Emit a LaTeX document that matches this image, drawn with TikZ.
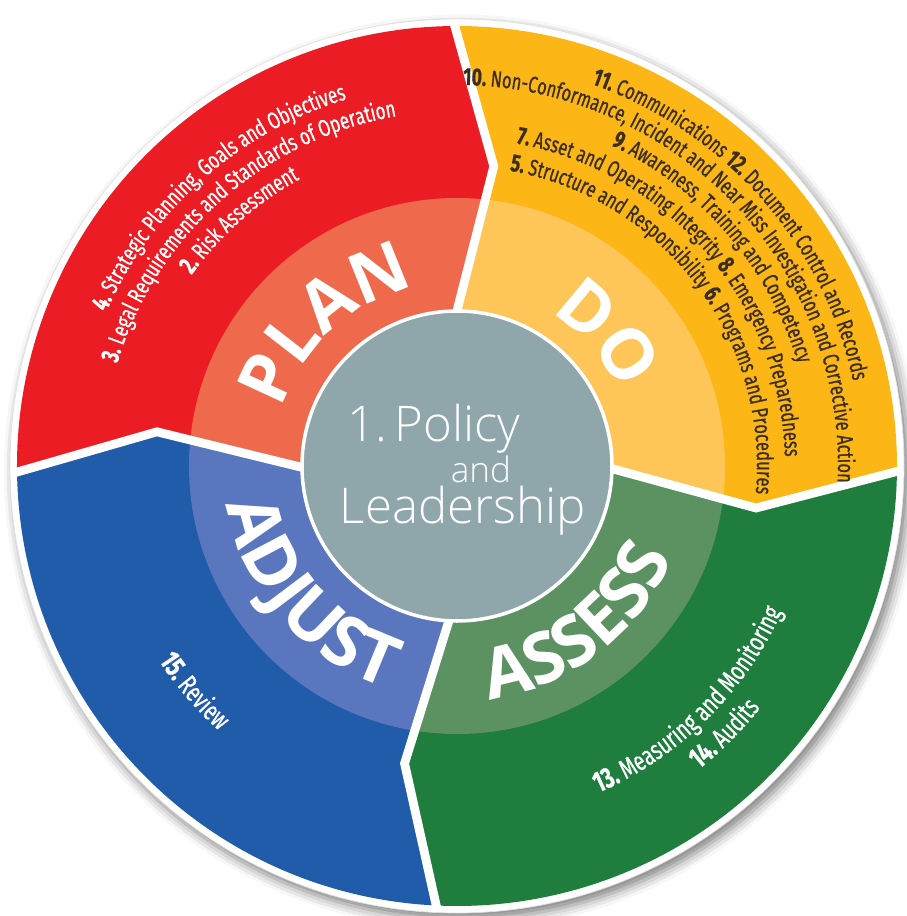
\documentclass[tikz,border=0pt]{standalone}
\usepackage{fontspec}
\setmainfont{Fira Sans}
\newfontfamily\itemfont[FakeStretch=0.72,FakeBold=0.6]{Fira Sans}
\newfontfamily\headfont{Open Sans}
\newfontfamily\policyfont{Open Sans Light}
\usepackage{tikz}
\usetikzlibrary{decorations.text,shadows.blur}
\definecolor{redO}{RGB}{236,28,36}
\definecolor{redI}{RGB}{239,106,77}
\definecolor{yelO}{RGB}{252,182,22}
\definecolor{yelI}{RGB}{254,198,88}
\definecolor{grnO}{RGB}{31,125,62}
\definecolor{grnI}{RGB}{92,146,98}
\definecolor{bluO}{RGB}{33,92,171}
\definecolor{bluI}{RGB}{90,118,190}
\definecolor{slate}{RGB}{143,166,170}
\definecolor{ink}{RGB}{60,46,28}
\newcommand\hd{\headfont\bfseries\fontsize{40}{40}\selectfont}
\newcommand\itm{\itemfont\fontsize{13.5}{15}\selectfont}
\newcommand\itb{\itemfont\fontsize{14.5}{15}\selectfont\bfseries}
\newcommand\dom{\itemfont\fontsize{13}{15}\selectfont}
\newcommand\dob{\itemfont\fontsize{14}{15}\selectfont\bfseries}
\newcommand\lom{\itemfont\fontsize{15.5}{17}\selectfont}
\newcommand\lob{\itemfont\fontsize{16.5}{17}\selectfont\bfseries}

\begin{document}
\begin{tikzpicture}[x=0.02cm,y=0.02cm,
  segpath/.style 2 args={insert path={(0,0) -- (#1:155) -- ({#1-7.5}:302) -- (#1:440) arc[start angle=#1,end angle=#2,radius=440] -- ({#2-7.5}:302) -- (#2:155) -- cycle}},
  seam/.style={white,line width=5pt,line join=miter},
  ontext/.style={decorate,decoration={text along path,text align=center,text color=#1}},
  centre/.style={anchor=base,text=white,inner sep=0pt}
]
\useasboundingbox (-457,-450) rectangle (449,466);
\fill[white,draw=black!12,blur shadow={shadow xshift=2.5pt,shadow yshift=-3.5pt,shadow blur radius=6pt,shadow opacity=50}] (0,0) circle (447);
\fill[redO,segpath={181}{90.5}];
\fill[yelO,segpath={90.5}{-0.5}];
\fill[grnO,segpath={-0.5}{-92.5}];
\fill[bluO,segpath={267.5}{181}];
\begin{scope}
  \clip (0,0) circle (268);
  \fill[redI,segpath={181}{90.5}];
  \fill[yelI,segpath={90.5}{-0.5}];
  \fill[grnI,segpath={-0.5}{-92.5}];
  \fill[bluI,segpath={267.5}{181}];
\end{scope}
\foreach \b in {90.5,-0.5,-92.5,181}
  \draw[seam] (\b:150) -- ({\b-7.5}:302) -- (\b:446);
\filldraw[fill=slate,draw=white,line width=2pt] (0,0) circle (155);

\node[centre,font=\policyfont\fontsize{28}{28}\selectfont] (pol) at (-23,24) {1.\kern0.15em Policy};
\node[centre,font=\policyfont\fontsize{20}{20}\selectfont] (and) at (24,-16) {and};
\node[centre,font=\policyfont\fontsize{28}{28}\selectfont] (lead) at (6,-57) {Leadership};

\path[ontext=white,decoration={text={|\hd|PLAN}}] (177.6:184) arc[start angle=177.6,end angle=87.6,radius=184];
\path[ontext=white,decoration={text={|\hd|DO}}] (81.4:179) arc[start angle=81.4,end angle=1.4,radius=179];
\path[ontext=white,decoration={text={|\hd|ASSESS}}] (257.4:235) arc[start angle=257.4,end angle=357.4,radius=235];
\path[ontext=white,decoration={text={|\hd|ADJUST}}] (171:233) arc[start angle=171,end angle=271,radius=233];

\path[ontext=white,decoration={text={|\itb|4. |\itm|Strategic Planning, Goals and Objectives}}] (181.5:383) arc[start angle=181.5,end angle=81.5,radius=383];
\path[ontext=white,decoration={text={|\itb|3. |\itm|Legal Requirements and Standards of Operation}}] (186.5:355) arc[start angle=186.5,end angle=76.5,radius=355];
\path[ontext=white,decoration={text={|\itb|2. |\itm|Risk Assessment}}] (171.5:327) arc[start angle=171.5,end angle=91.5,radius=327];

\path[ontext=ink,decoration={text={|\dob|11. |\dom|Communications |\dob|12. |\dom|Document Control and Records}}] (101.4:405) arc[start angle=101.4,end angle=-18.6,radius=405];
\path[ontext=ink,decoration={text={|\dob|10. |\dom|Non-Conformance, Incident and Near Miss Investigation and Corrective Action}}] (108.3:381) arc[start angle=108.3,end angle=-21.7,radius=381];
\path[ontext=ink,decoration={text={|\dob|9. |\dom|Awareness, Training and Competency}}] (90.5:356) arc[start angle=90.5,end angle=-9.5,radius=356];
\path[ontext=ink,decoration={text={|\dob|7. |\dom|Asset and Operating Integrity |\dob|8. |\dom|Emergency Preparedness}}] (100.6:328) arc[start angle=100.6,end angle=-19.4,radius=328];
\path[ontext=ink,decoration={text={|\dob|5. |\dom|Structure and Responsibility |\dob|6. |\dom|Programs and Procedures}}] (102.3:300) arc[start angle=102.3,end angle=-27.7,radius=300];

\path[ontext=white,decoration={text={|\lob|13. |\lom|Measuring and Monitoring}}] (274.6:356) arc[start angle=274.6,end angle=354.6,radius=356];
\path[ontext=white,decoration={text={|\lob|14. |\lom|Audits}}] (285:388) arc[start angle=285,end angle=345,radius=388];
\path[ontext=white,decoration={text={|\lob|15. |\lom|Review}}] (195.6:356) arc[start angle=195.6,end angle=245.6,radius=356];
\end{tikzpicture}
\end{document}
